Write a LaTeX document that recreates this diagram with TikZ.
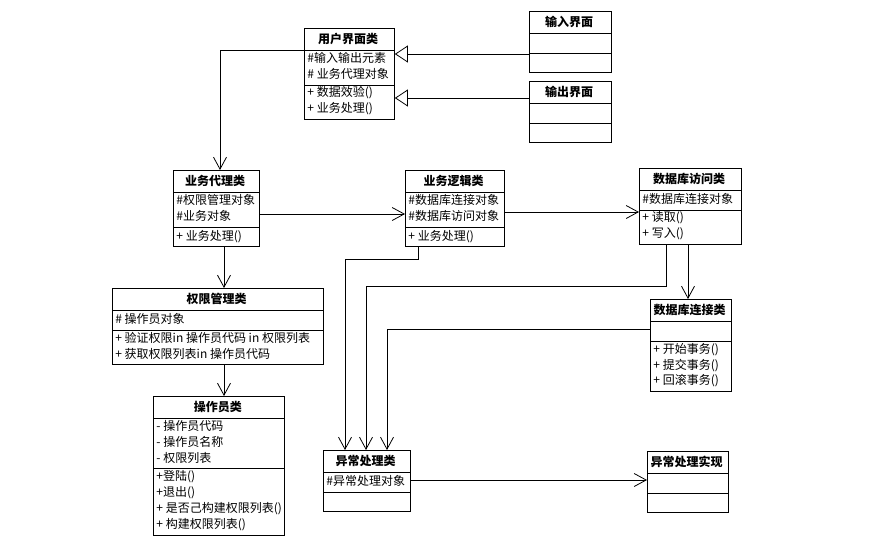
\documentclass[tikz,border=0pt]{standalone}
\usepackage{fontspec}
\setmainfont{Noto Sans CJK SC}
\usetikzlibrary{arrows.meta, shapes.multipart}

\newcommand{\clsname}[1]{\rule[-5pt]{0pt}{18pt}\textbf{#1}}

\begin{document}
\begin{tikzpicture}[x=1pt, y=-1pt, line width=0.8pt,
    >={Straight Barb[length=12pt,width=13pt]},
    cls/.style={draw, rectangle split, rectangle split parts=3,
        rectangle split part align={center,left,left},
        anchor=north west, align=left, minimum width=#1,
        inner xsep=3pt, inner ysep=1.5pt,
        font=\fontsize{12}{16}\selectfont,
        execute at begin node=\strut, execute at end node=\strut},
    assoc/.style={->},
    realize/.style={-{Triangle[open,length=13pt,width=17pt]}}]
        \useasboundingbox (0,0) rectangle (875,536);
        % nodes
        \node[cls=86pt]  (yonghu)   at (304,28)  {\clsname{用户界面类}
            \nodepart{second}\#输入输出元素\\\# 业务代理对象
            \nodepart{third}+ 数据效验()\\+ 业务处理()};
        \node[cls=82pt]  (shuru)    at (529,11)  {\clsname{输入界面}
            \nodepart{second}\nodepart{third}};
        \node[cls=82pt]  (shuchu)   at (529,81)  {\clsname{输出界面}
            \nodepart{second}\nodepart{third}};
        \node[cls=86pt]  (dailei)   at (173,170) {\clsname{业务代理类}
            \nodepart{second}\#权限管理对象\\\#业务对象
            \nodepart{third}+ 业务处理()};
        \node[cls=97pt]  (luoji)    at (405,170) {\clsname{业务逻辑类}
            \nodepart{second}\#数据库连接对象\\\#数据库访问对象
            \nodepart{third}+ 业务处理()};
        \node[cls=102pt] (fangwen)  at (639,168) {\clsname{数据库访问类}
            \nodepart{second}\#数据库连接对象
            \nodepart{third}+ 读取()\\+ 写入()};
        \node[cls=211pt] (quanxian) at (112,288) {\clsname{权限管理类}
            \nodepart{second}\# 操作员对象
            \nodepart{third}+ 验证权限in 操作员代码 in 权限列表\\+ 获取权限列表in 操作员代码};
        \node[cls=131pt] (caozuo)   at (153,396) {\clsname{操作员类}
            \nodepart{second}- 操作员代码\\- 操作员名称\\- 权限列表
            \nodepart{third}+登陆()\\+退出()\\+ 是否己构建权限列表()\\+ 构建权限列表()};
        \node[cls=81pt]  (lianjie)  at (650,299) {\clsname{数据库连接类}
            \nodepart{second}
            \nodepart{third}+ 开始事务()\\+ 提交事务()\\+ 回滚事务()};
        \node[cls=85pt]  (yichang)  at (323,450) {\clsname{异常处理类}
            \nodepart{second}\#异常处理对象
            \nodepart{third}};
        \node[cls=81pt]  (shixian)  at (647,451) {\clsname{异常处理实现}
            \nodepart{second}\nodepart{third}};
        % arrows
        \draw[realize] (shuru.west |- 0,54)  -- (yonghu.east |- 0,54);
        \draw[realize] (shuchu.west |- 0,98) -- (yonghu.east |- 0,98);
        \draw[assoc] (yonghu.west |- 0,50) -| (220,0 |- dailei.north);
        \draw[assoc] (dailei.east |- 0,214) -- (luoji.west |- 0,214);
        \draw[assoc] (luoji.east |- 0,212)  -- (fangwen.west |- 0,212);
        \draw[assoc] (224,0 |- dailei.south)   -- (224,0 |- quanxian.north);
        \draw[assoc] (224,0 |- quanxian.south) -- (224,0 |- caozuo.north);
        \draw[assoc] (688,0 |- fangwen.south)  -- (688,0 |- lianjie.north);
        \draw[assoc] (418,0 |- luoji.south) -- (418,259) -| (345,0 |- yichang.north);
        \draw[assoc] (666,0 |- fangwen.south) -- (666,286) -| (366,0 |- yichang.north);
        \draw[assoc] (lianjie.west |- 0,329) -| (387,0 |- yichang.north);
        \draw[assoc] (yichang.east |- 0,480) -- (shixian.west |- 0,480);
\end{tikzpicture}
\end{document}
